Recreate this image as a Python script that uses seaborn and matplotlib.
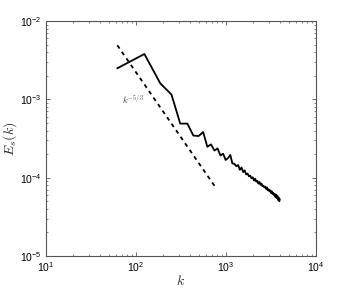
import numpy as np
import pandas as pd
import matplotlib
matplotlib.use('Agg')
import matplotlib.pyplot as plt
import seaborn as sns

# 谱数据: k = 62*n
mode_n = list(range(1, 65))
energy = [2.49e-3, 3.79e-3, 1.60e-3, 1.15e-3, 4.9e-4, 4.9e-4, 3.45e-4, 3.40e-4,
          3.82e-4, 2.48e-4, 2.66e-4, 2.22e-4, 2.36e-4, 1.92e-4, 2.02e-4, 1.68e-4,
          1.78e-4, 1.95e-4, 1.52e-4, 1.50e-4, 1.40e-4, 1.45e-4, 1.26e-4, 1.35e-4,
          1.18e-4, 1.24e-4, 1.10e-4, 1.13e-4, 1.04e-4, 1.06e-4, 0.98e-4, 1.01e-4,
          9.2e-5, 9.7e-5, 8.9e-5, 9.1e-5, 8.4e-5, 8.8e-5, 8.1e-5, 8.4e-5,
          7.8e-5, 7.9e-5, 7.5e-5, 7.7e-5, 7.2e-5, 7.5e-5, 6.9e-5, 7.1e-5,
          6.7e-5, 6.9e-5, 6.4e-5, 6.7e-5, 6.2e-5, 6.4e-5, 6.0e-5, 6.2e-5,
          5.7e-5, 6.1e-5, 5.5e-5, 5.9e-5, 5.2e-5, 5.6e-5, 5.0e-5, 5.3e-5]
k_step = 62

# 参考线 k^{-5/3}
ref_k = [62, 755]
ref_E = [4.9e-3, 7.7e-5]

df = pd.DataFrame({'k': [k_step * n for n in mode_n], 'E': energy})
df_ref = pd.DataFrame({'k': ref_k, 'E': ref_E})

sns.set_style('ticks')
plt.rcParams['font.family'] = ['Liberation Sans', 'DejaVu Sans']
plt.rcParams['mathtext.fontset'] = 'cm'

fig = plt.figure(figsize=(3.49, 2.88), dpi=100)
ax = fig.add_axes([0.1318, 0.1111, 0.7736, 0.816])

sns.lineplot(data=df, x='k', y='E', color='black', linewidth=1.3, ax=ax)
sns.lineplot(data=df_ref, x='k', y='E', color='black', linewidth=1.3,
             linestyle=(0, (2.2, 2.2)), ax=ax)

ax.set_xscale('log')
ax.set_yscale('log')
ax.set_xlim(10, 1e4)
ax.set_ylim(1e-5, 1e-2)

ax.text(70, 1e-3, r'$k^{-5/3}$', fontsize=6.5, color='#444444', va='center', ha='left')

ax.set_xlabel(r'$k$', fontsize=10, labelpad=0)
ax.set_ylabel(r'$E_s(k)$', fontsize=10, labelpad=1)

for s in ax.spines.values():
    s.set_visible(True)
    s.set_color('#555555')
    s.set_linewidth(0.8)
ax.tick_params(which='both', direction='in', top=True, right=True,
               colors='#555555', labelcolor='black', labelsize=7.5)
ax.tick_params(which='major', length=3, width=0.6, pad=3)
ax.tick_params(which='minor', length=1.6, width=0.5)

fig.savefig('out.png', dpi=100)
